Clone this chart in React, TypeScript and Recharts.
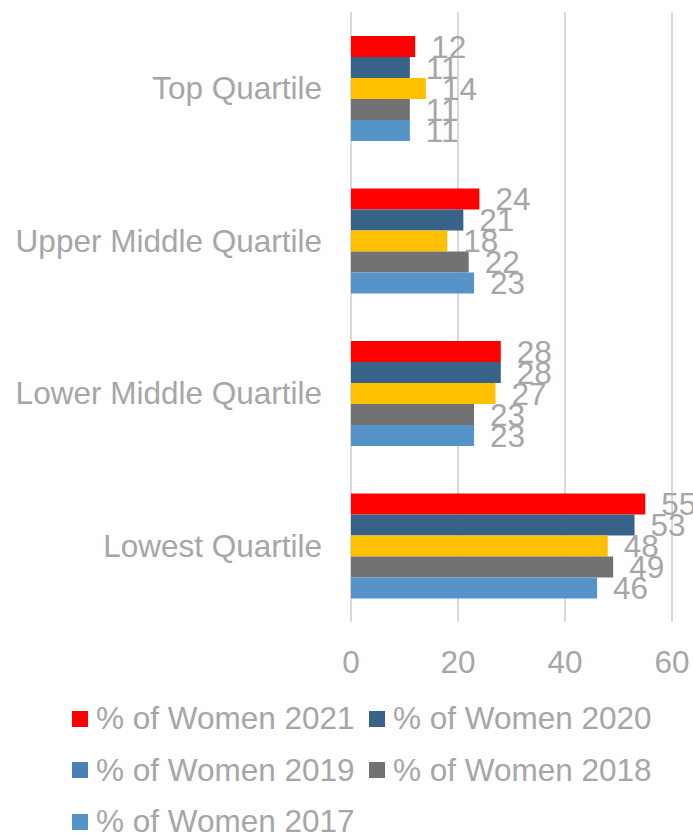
import { BarChart, Bar, XAxis, YAxis, CartesianGrid, LabelList } from "recharts";

const categories = ["Top Quartile", "Upper Middle Quartile", "Lower Middle Quartile", "Lowest Quartile"];
const women2021 = [12, 24, 28, 55];
const women2020 = [11, 21, 28, 53];
const women2019 = [14, 18, 27, 48];
const women2018 = [11, 22, 23, 49];
const women2017 = [11, 23, 23, 46];
const xTicks = [0, 20, 40, 60];

const GREY = "#A6A6A6";
const FONT = "'Liberation Sans', Arial, sans-serif";
const FS = 31.5;

const series = [
  { key: "w2021", name: "% of Women 2021", color: "#FF0000", legend: "#FF0000" },
  { key: "w2020", name: "% of Women 2020", color: "#376389", legend: "#376389" },
  { key: "w2019", name: "% of Women 2019", color: "#FFC000", legend: "#4A80B6" },
  { key: "w2018", name: "% of Women 2018", color: "#727274", legend: "#727274" },
  { key: "w2017", name: "% of Women 2017", color: "#5593C9", legend: "#5593C9" },
];

const data = categories.map((c, i) => ({
  name: c,
  w2021: women2021[i],
  w2020: women2020[i],
  w2019: women2019[i],
  w2018: women2018[i],
  w2017: women2017[i],
}));

export default function App() {
  return (
    <div style={{ position: "absolute", left: 0, top: 0, width: 693, height: 835, background: "#fff", fontFamily: FONT, overflow: "hidden" }}>
      <BarChart
        width={693}
        height={700}
        data={data}
        layout="vertical"
        margin={{ top: 12, right: 21, left: 0, bottom: 0 }}
        barCategoryGap="15.7%"
        barGap={0}
      >
        <CartesianGrid horizontal={false} stroke="#D9D9D9" strokeWidth={2} />
        <XAxis
          type="number"
          domain={[0, 60]}
          ticks={xTicks}
          height={78}
          axisLine={false}
          tickLine={false}
          tickSize={0}
          tickMargin={29}
          tick={{ fill: GREY, fontSize: FS, fontFamily: FONT }}
        />
        <YAxis
          type="category"
          dataKey="name"
          width={351}
          axisLine={false}
          tickLine={false}
          tickSize={0}
          tickMargin={29}
          tick={{ fill: GREY, fontSize: FS, fontFamily: FONT }}
        />
        {series.map((s) => (
          <Bar key={s.key} dataKey={s.key} name={s.name} fill={s.color} isAnimationActive={false}>
            <LabelList
              dataKey={s.key}
              position="right"
              offset={16}
              fill={GREY}
              fontSize={FS}
              fontFamily={FONT}
            />
          </Bar>
        ))}
      </BarChart>
      <div style={{ position: "absolute", left: 72, top: 693, width: 621, color: GREY, fontSize: FS, lineHeight: 1 }}>
        {[0, 2, 4].map((start) => (
          <div key={start} style={{ display: "flex", height: 51.5, alignItems: "center" }}>
            {series.slice(start, start + 2).map((s) => (
              <div key={s.key} style={{ display: "flex", alignItems: "center", width: 297, whiteSpace: "nowrap" }}>
                <span style={{ display: "inline-block", width: 16, height: 16, background: s.legend, marginRight: 8, flexShrink: 0 }} />
                <span>{s.name}</span>
              </div>
            ))}
          </div>
        ))}
      </div>
    </div>
  );
}
